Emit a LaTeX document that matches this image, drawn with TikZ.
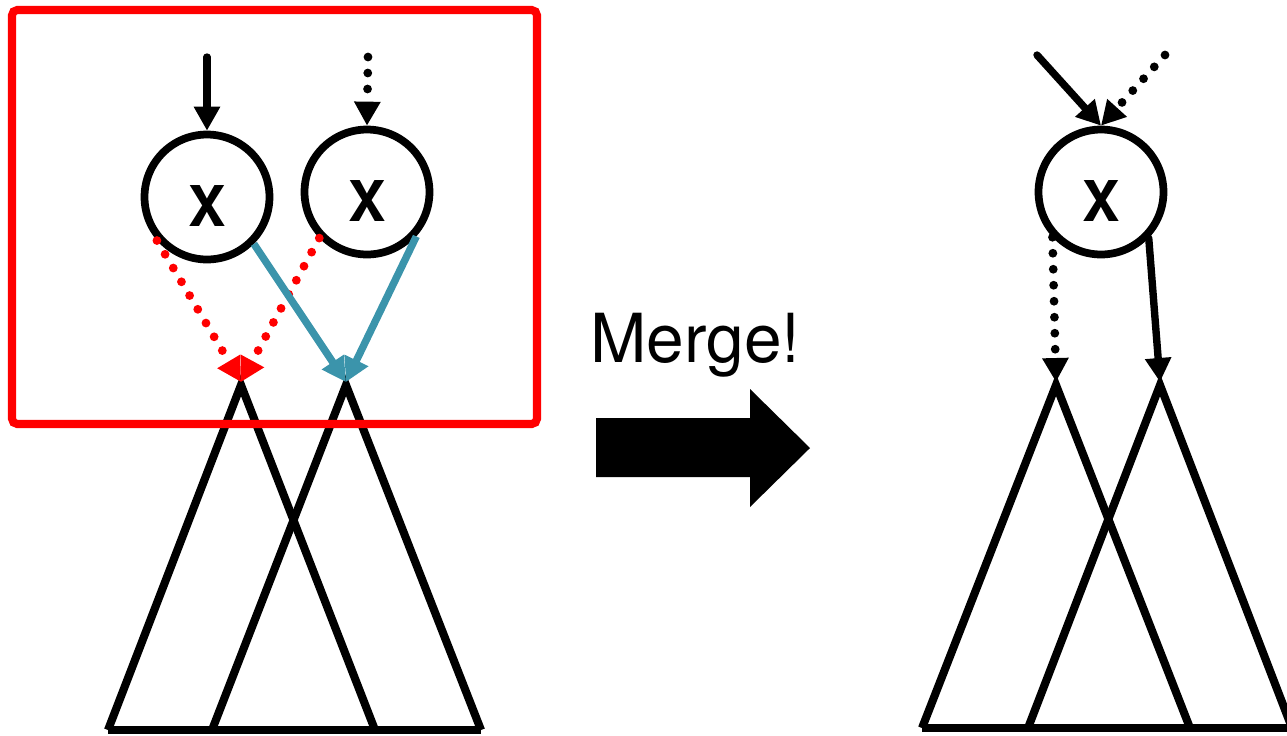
\documentclass[tikz,border=0pt]{standalone}
\usepackage{fontspec}
\setmainfont{TeX Gyre Heros}
\usetikzlibrary{arrows.meta}
\definecolor{tealblue}{RGB}{59,148,171}
\begin{document}
\begin{tikzpicture}[x=0.02cm,y=-0.02cm,
  xnode/.style={circle,draw=black,line width=4.4pt,fill=white,inner sep=0pt,minimum size=2.5cm,text height=1.18cm,text depth=0pt,font=\fontsize{32}{32}\selectfont\bfseries},
  tri/.style={draw=black,line width=4.6pt,line join=miter},
  tipA/.style={-{Triangle[length=0.48cm,width=0.5cm]}},
  solidarr/.style={tipA,line width=4.2pt,line cap=round},
  dotarr/.style={tipA,line width=5pt,line cap=round,dash pattern=on 0pt off 0.32cm},
  redbox/.style={draw=red,line width=4.6pt,rounded corners=3pt}]
\useasboundingbox (0,0) rectangle (1287,735);
% triangles left
\coordinate (a1) at (241,385);
\coordinate (a2) at (346,385);
\draw[tri] (108,730) -- (a1) -- (375,730);
\draw[tri] (212,730) -- (a2) -- (481,730);
\draw[tri] (108,730) -- (481,730);
% triangles right
\coordinate (b1) at (1056,385);
\coordinate (b2) at (1160,385);
\draw[tri] (922,728) -- (b1) -- (1190,728);
\draw[tri] (1028,728) -- (b2) -- (1292,728);
\draw[tri] (922,728) -- (1292,728);
% circles
\node[xnode] (c1) at (207,197) {X};
\node[xnode] (c2) at (367,192) {X};
\node[xnode] (c3) at (1101,192) {X};
% top inputs left
\coordinate (s1) at (207,57);
\coordinate (s2) at (368,57);
\draw[solidarr] (s1) -- (c1.north);
\draw[dotarr] (s2) -- (c2.north);
% arrows down left
\coordinate (e1) at (241,382);
\coordinate (e2) at (346,382);
\draw[dotarr,red] (c1.221) -- (e1);
\draw[dotarr,red] (c2.224) -- (e1);
\draw[solidarr,tealblue,line cap=butt] (c1.315) -- (e2);
\draw[solidarr,tealblue,line cap=butt] (c2.318) -- (e2);
% right inputs
\coordinate (s3) at (1037,55);
\coordinate (s4) at (1165,55);
\draw[solidarr] (s3) -- (c3.north);
\draw[dotarr] (s4) -- (c3.north);
\coordinate (e3) at (1056,382);
\coordinate (e4) at (1160,382);
\draw[dotarr] (c3.223) -- (e3);
\draw[solidarr] (c3.316) -- (e4);
% red box
\draw[redbox] (12,10) rectangle (537,424);
% merge
\node[anchor=base west,inner sep=0pt,font=\fontsize{38.5}{38.5}\selectfont] (mg) at (590,362) {Merge!};
\fill[black] (596,418) -- (750,418) -- (750,389) -- (810,448) -- (750,507) -- (750,477) -- (596,477) -- cycle;
\end{tikzpicture}
\end{document}
